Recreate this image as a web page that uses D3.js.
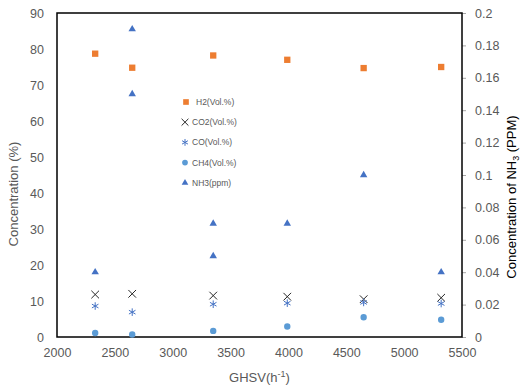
<!DOCTYPE html>
<html><head><meta charset="utf-8">
<script src="https://cdn.jsdelivr.net/npm/d3@7"></script>
<style>body{margin:0;background:#fff}svg{display:block}text{font-family:"Liberation Sans",Arial,sans-serif}</style>
</head><body>
<script>
const ghsv = [2330, 2650, 3350, 3990, 4650, 5320];
const h2 = [78.7, 74.8, 78.2, 77.0, 74.7, 75.0];
const co2 = [11.8, 12.0, 11.5, 11.2, 10.5, 10.9];
const co = [8.6, 6.9, 9.1, 9.4, 9.6, 9.3];
const ch4 = [1.1, 0.7, 1.7, 2.9, 5.5, 4.8];
const nh3X = [2330, 2650, 2650, 3350, 3350, 3990, 4650, 5320];
const nh3 = [0.04, 0.19, 0.15, 0.07, 0.05, 0.07, 0.10, 0.04];
const xTicks = [2000, 2500, 3000, 3500, 4000, 4500, 5000, 5500];
const yTicks = [0, 10, 20, 30, 40, 50, 60, 70, 80, 90];
const y2Ticks = [0, 0.02, 0.04, 0.06, 0.08, 0.1, 0.12, 0.14, 0.16, 0.18, 0.2];
const legendLabels = ["H2(Vol.%)", "CO2(Vol.%)", "CO(Vol.%)", "CH4(Vol.%)", "NH3(ppm)"];

const W = 521, H = 387;
const m = {l: 57, r: 462, t: 13, b: 337};
const svg = d3.select("body").append("svg").attr("width", W).attr("height", H);
const x = d3.scaleLinear().domain([2000, 5500]).range([m.l, m.r]);
const y = d3.scaleLinear().domain([0, 90]).range([m.b, m.t]);
const y2 = d3.scaleLinear().domain([0, 0.2]).range([m.b, m.t]);
const gray = "#595959";

// axes
const gx = svg.append("g").attr("transform", `translate(0,${m.b})`)
  .call(d3.axisBottom(x).tickValues(xTicks).tickSize(0).tickPadding(11).tickFormat(d3.format("d")));
const gy = svg.append("g").attr("transform", `translate(${m.l},0)`)
  .call(d3.axisLeft(y).tickValues(yTicks).tickSize(0).tickPadding(13));
const gy2 = svg.append("g").attr("transform", `translate(${m.r},0)`)
  .call(d3.axisRight(y2).tickValues(y2Ticks).tickSize(4).tickPadding(9).tickFormat(d => String(+d.toFixed(2))));
[gx, gy, gy2].forEach(g => {
  g.select(".domain").remove();
  g.selectAll("text").attr("fill", gray).style("font-size", "12.5px");
  g.selectAll("line").attr("stroke", "#a6a6a6");
});

svg.append("rect").attr("x", m.l).attr("y", m.t).attr("width", m.r - m.l).attr("height", m.b - m.t)
  .attr("fill", "none").attr("stroke", "#000").attr("stroke-width", 1.5);

// titles
svg.append("text").attr("transform", `translate(18,194) rotate(-90)`).attr("text-anchor", "middle")
  .attr("fill", gray).style("font-size", "13px").text("Concentration (%)");
const rt = svg.append("text").attr("transform", `translate(516,197) rotate(-90)`).attr("text-anchor", "middle")
  .attr("fill", "#000").style("font-size", "13px");
rt.append("tspan").text("Concentration of NH");
rt.append("tspan").attr("dy", 3).style("font-size", "9px").text("3");
rt.append("tspan").attr("dy", -3).text(" (PPM)");
const bt = svg.append("text").attr("x", (m.l + m.r) / 2).attr("y", 382).attr("text-anchor", "middle")
  .attr("fill", gray).style("font-size", "13px");
bt.append("tspan").text("GHSV(h");
bt.append("tspan").attr("dy", -5).style("font-size", "9px").text("-1");
bt.append("tspan").attr("dy", 5).text(")");

// series
const styles = [
  {sym: d3.symbolSquare, size: 40, fill: "#ED7D31", stroke: "none"},
  {sym: d3.symbolTimes, size: 40, fill: "none", stroke: "#262626"},
  {sym: d3.symbolAsterisk, size: 40, fill: "none", stroke: "#4472C4"},
  {sym: d3.symbolCircle, size: 32, fill: "#5B9BD5", stroke: "none"},
  {sym: d3.symbolTriangle, size: 24, fill: "#4472C4", stroke: "none"}
];
function plot(xs, ys, sc, st) {
  svg.append("g").selectAll("path").data(xs.map((d, i) => [d, ys[i]])).join("path")
    .attr("transform", d => `translate(${x(d[0])},${sc(d[1])})`)
    .attr("d", d3.symbol().type(st.sym).size(st.size))
    .attr("fill", st.fill).attr("stroke", st.stroke).attr("stroke-width", 1);
}
plot(ghsv, h2, y, styles[0]);
plot(ghsv, co2, y, styles[1]);
plot(ghsv, co, y, styles[2]);
plot(ghsv, ch4, y, styles[3]);
plot(nh3X, nh3, y2, styles[4]);

// legend
const lg = svg.append("g");
legendLabels.forEach((lab, i) => {
  const ly = 102 + i * 20.2;
  const st = styles[i];
  lg.append("path").attr("transform", `translate(${i === 0 ? 186 : 185},${ly})`)
    .attr("d", d3.symbol().type(st.sym).size(st.size * 0.8))
    .attr("fill", st.fill).attr("stroke", st.stroke).attr("stroke-width", 1);
  lg.append("text").attr("x", i === 0 ? 196 : 192).attr("y", ly + 3).attr("fill", gray)
    .style("font-size", "8.5px").text(lab);
});
</script>
</body></html>
